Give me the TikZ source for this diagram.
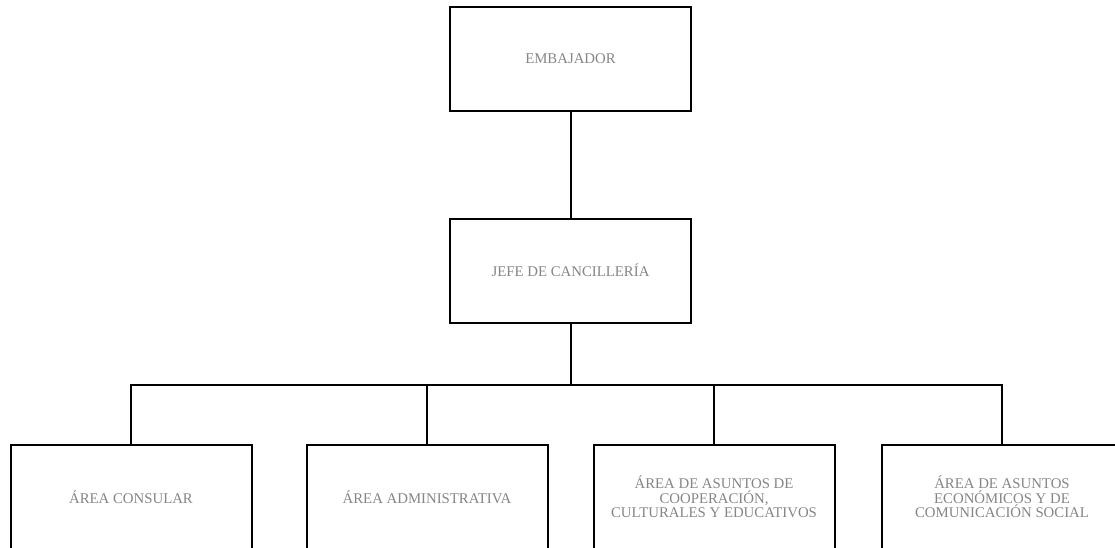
\documentclass[tikz,border=0pt]{standalone}
\usepackage{fontspec}
\setmainfont{Liberation Serif}
\begin{document}
\begin{tikzpicture}[x=1pt,y=-1pt,
  orgbox/.style={draw=black,line width=2pt,minimum width=241pt,minimum height=104pt,inner sep=0pt,
    align=center,text=black!48,font=\fontsize{14.8}{14.5}\selectfont},
  conn/.style={draw=black,line width=2pt}]
\useasboundingbox (0,0) rectangle (1115,548);
\clip (0,0) rectangle (1115,548);
\node[orgbox] (emb) at (570.5,59) {EMBAJADOR};
\node[orgbox] (jefe) at (570.5,270.5) {JEFE DE CANCILLERÍA};
\node[orgbox] (b1) at (131,497) {ÁREA CONSULAR};
\node[orgbox] (b2) at (427,497) {ÁREA ADMINISTRATIVA};
\node[orgbox] (b3) at (714,497) {ÁREA DE ASUNTOS DE\\COOPERACIÓN,\\CULTURALES Y EDUCATIVOS};
\node[orgbox] (b4) at (1002,497) {ÁREA DE ASUNTOS\\ECONÓMICOS Y DE\\COMUNICACIÓN SOCIAL};
\coordinate (bus) at (570.5,385);
\draw[conn] (emb.south) -- (jefe.north);
\draw[conn] (jefe.south) -- (bus);
\draw[conn] (b1.north) |- (bus) -| (b4.north);
\draw[conn] (b2.north) -- (b2.north |- bus);
\draw[conn] (b3.north) -- (b3.north |- bus);
\end{tikzpicture}
\end{document}
